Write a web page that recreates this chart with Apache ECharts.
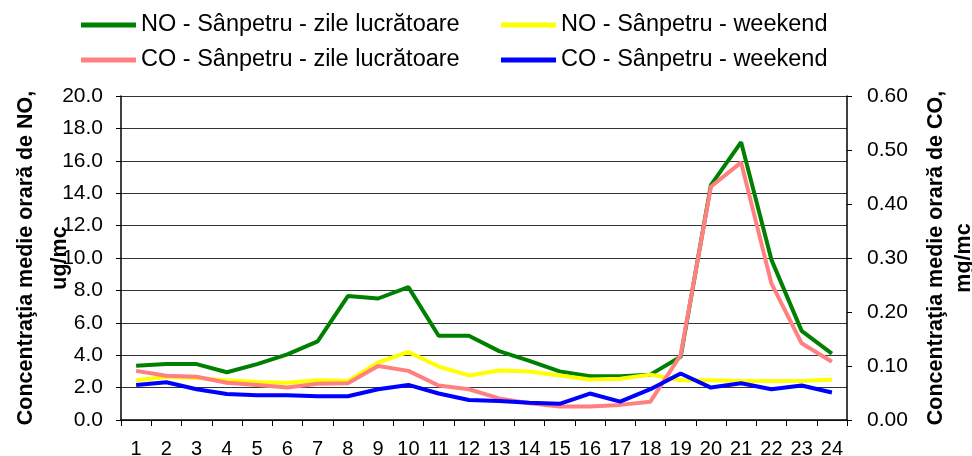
<!DOCTYPE html>
<html>
<head>
<meta charset="utf-8">
<script src="https://cdn.jsdelivr.net/npm/echarts@6/dist/echarts.min.js"></script>
<style>
html,body{margin:0;padding:0;background:#fff;}
#c{width:972px;height:456px;}
</style>
</head>
<body>
<div id="c"></div>
<script>
const hours = ['1','2','3','4','5','6','7','8','9','10','11','12','13','14','15','16','17','18','19','20','21','22','23','24'];
const noWork = [3.35,3.45,3.45,2.95,3.45,4.05,4.85,7.65,7.5,8.2,5.2,5.2,4.25,3.65,3.0,2.7,2.7,2.8,3.9,14.5,17.15,9.9,5.5,4.1];
const noWeekend = [2.45,2.65,2.6,2.45,2.35,2.3,2.45,2.4,3.55,4.2,3.3,2.75,3.05,3.0,2.75,2.5,2.55,2.8,2.45,2.45,2.4,2.4,2.4,2.5];
const coWork = [0.091,0.082,0.080,0.069,0.065,0.060,0.067,0.068,0.100,0.091,0.064,0.057,0.040,0.031,0.025,0.025,0.028,0.034,0.120,0.432,0.477,0.253,0.142,0.108];
const coWeekend = [0.065,0.070,0.057,0.048,0.046,0.046,0.044,0.044,0.057,0.065,0.049,0.037,0.035,0.032,0.030,0.049,0.034,0.057,0.086,0.060,0.068,0.057,0.064,0.051];
const names = ['NO - Sânpetru - zile lucrătoare','NO - Sânpetru - weekend','CO - Sânpetru - zile lucrătoare','CO - Sânpetru - weekend'];
const colors = ['#008000','#FFFF00','#FF8080','#0000FF'];

const FONT = 'Liberation Sans, Arial, sans-serif';
const chart = echarts.init(document.getElementById('c'), null, {renderer:'canvas'});

function leg(name, left, top){
  return {data:[name], left:left, top:top, padding:0, icon:'rect', itemWidth:55, itemHeight:5,
    textStyle:{fontFamily:FONT, fontSize:23.5, color:'#000'}, selectedMode:false};
}

chart.setOption({
  animation:false,
  backgroundColor:'#fff',
  textStyle:{fontFamily:FONT},
  legend:[
    leg(names[0], 81, 13),
    leg(names[1], 501, 13),
    leg(names[2], 81, 48),
    leg(names[3], 501, 48)
  ],
  grid:{left:121, right:125, top:96, bottom:36, containLabel:false, outerBoundsMode:'none'},
  xAxis:{
    type:'category', data:hours, boundaryGap:true,
    axisLine:{show:true, lineStyle:{color:'#000', width:1.5}},
    axisTick:{show:true, inside:false, length:6, alignWithLabel:false, lineStyle:{color:'#000'}},
    axisLabel:{interval:0, fontSize:20, color:'#000', margin:19, fontFamily:FONT},
    splitLine:{show:false}
  },
  yAxis:[
    {type:'value', min:0, max:20, interval:2, position:'left',
     name:'Concentraţia medie orară de NO,\nug/mc', nameLocation:'middle', nameRotate:90, nameGap:44,
     nameMoveOverlap:false,
     nameTextStyle:{fontFamily:FONT, fontWeight:'bold', fontSize:21.5, lineHeight:34, color:'#000'},
     axisLine:{show:true, lineStyle:{color:'#000', width:1.5}},
     axisTick:{show:true, inside:false, length:5, lineStyle:{color:'#000'}},
     axisLabel:{fontSize:21, color:'#000', margin:18, fontFamily:FONT, formatter:v=>v.toFixed(1)},
     splitLine:{show:true, lineStyle:{color:'#333', width:1}}
    },
    {type:'value', min:0, max:0.6, interval:0.1, position:'right',
     name:'Concentraţia medie orară de CO,\nmg/mc', nameLocation:'middle', nameRotate:90, nameGap:75,
     nameMoveOverlap:false,
     nameTextStyle:{fontFamily:FONT, fontWeight:'bold', fontSize:21.5, lineHeight:28, color:'#000'},
     axisLine:{show:true, lineStyle:{color:'#000', width:1.5}},
     axisTick:{show:true, inside:false, length:5, lineStyle:{color:'#000'}},
     axisLabel:{fontSize:21, color:'#000', margin:20, fontFamily:FONT, formatter:v=>v.toFixed(2)},
     splitLine:{show:false}
    }
  ],
  series:[
    {name:names[0], type:'line', yAxisIndex:0, data:noWork, symbol:'none', color:colors[0], lineStyle:{width:4, color:colors[0]}},
    {name:names[1], type:'line', yAxisIndex:0, data:noWeekend, symbol:'none', color:colors[1], lineStyle:{width:4, color:colors[1]}},
    {name:names[2], type:'line', yAxisIndex:1, data:coWork, symbol:'none', color:colors[2], lineStyle:{width:4, color:colors[2]}},
    {name:names[3], type:'line', yAxisIndex:1, data:coWeekend, symbol:'none', color:colors[3], lineStyle:{width:4, color:colors[3]}}
  ]
});
</script>
</body>
</html>
